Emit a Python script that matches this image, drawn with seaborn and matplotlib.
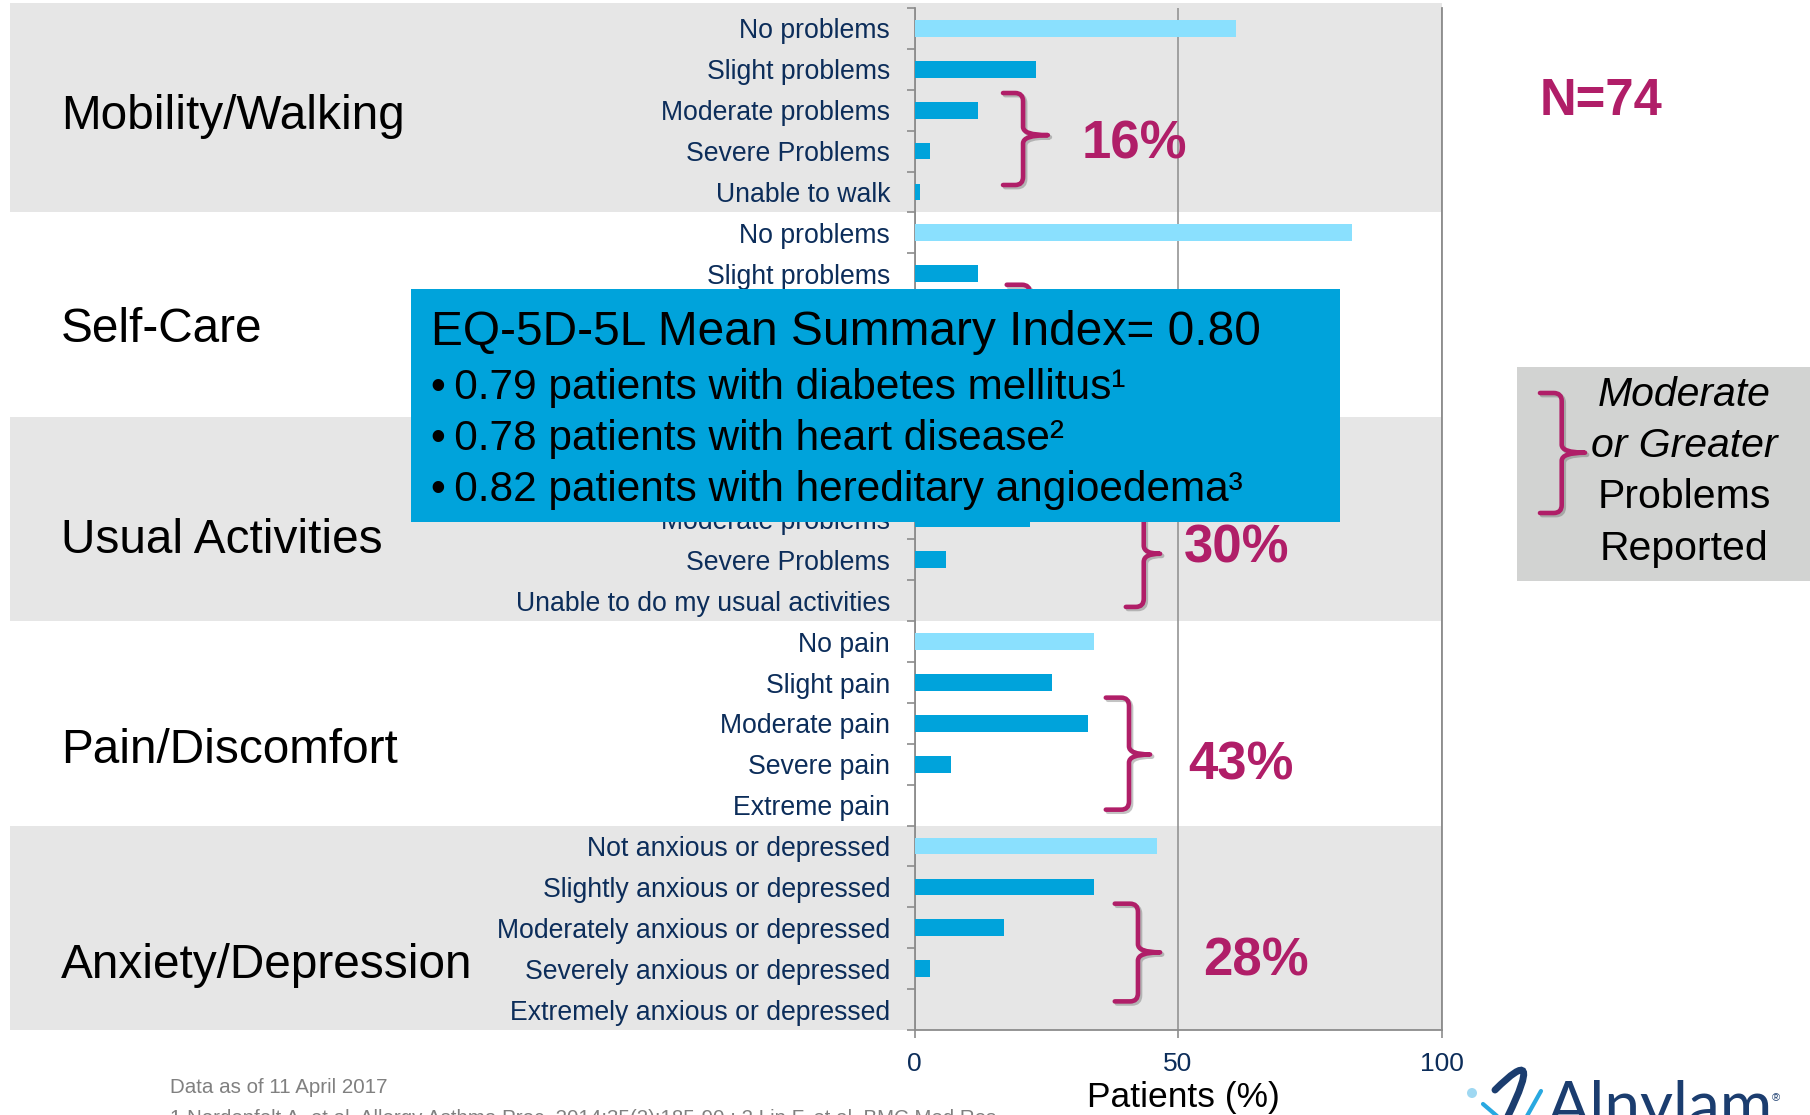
import numpy as np
import pandas as pd
import matplotlib
matplotlib.use("Agg")
import matplotlib.pyplot as plt
from matplotlib.patches import Rectangle, PathPatch, Circle
from matplotlib.path import Path
from matplotlib.ticker import FixedLocator
from matplotlib import transforms
import matplotlib.patheffects as pe
import seaborn as sns

# ---------------------------------------------------------------- data
dimensions = ["Mobility/Walking", "Self-Care", "Usual Activities",
              "Pain/Discomfort", "Anxiety/Depression"]

mobility_levels = ["No problems", "Slight problems", "Moderate problems",
                   "Severe Problems", "Unable to walk"]
selfcare_levels = ["No problems", "Slight problems", "Moderate problems",
                   "Severe Problems", "Unable to wash or dress"]
usual_levels = ["No problems", "Slight problems", "Moderate problems",
                "Severe Problems", "Unable to do my usual activities"]
pain_levels = ["No pain", "Slight pain", "Moderate pain", "Severe pain",
               "Extreme pain"]
anxiety_levels = ["Not anxious or depressed", "Slightly anxious or depressed",
                  "Moderately anxious or depressed",
                  "Severely anxious or depressed",
                  "Extremely anxious or depressed"]

mobility_pct = [61, 23, 12, 3, 1]
selfcare_pct = [83, 12, 4, 1, 0]
usual_pct = [47, 25, 22, 6, 0]
pain_pct = [34, 26, 33, 7, 0]
anxiety_pct = [46, 34, 17, 3, 0]

moderate_or_greater = ["16%", None, "30%", "43%", "28%"]

summary_title = "EQ-5D-5L Mean Summary Index= 0.80"
summary_bullets = ["0.79 patients with diabetes mellitus\u00b9",
                   "0.78 patients with heart disease\u00b2",
                   "0.82 patients with hereditary angioedema\u00b3"]

x_ticks = [0, 50, 100]

# ---------------------------------------------------------------- table
levels = [mobility_levels, selfcare_levels, usual_levels, pain_levels,
          anxiety_levels]
values = [mobility_pct, selfcare_pct, usual_pct, pain_pct, anxiety_pct]
records = []
for dim, lv, vals in zip(dimensions, levels, values):
    for i, (name, v) in enumerate(zip(lv, vals)):
        records.append({"row": f"{dim} | {name}", "level": name, "pct": v,
                        "tier": "none" if i == 0 else "some"})
df = pd.DataFrame(records)

# ---------------------------------------------------------------- style
W, H = 1810, 1115
LIGHT = "#8AE0FE"
DARK = "#00A3DB"
NAVY = "#0C2D5A"
MAGENTA = "#B01E68"
AXGRAY = "#8C8C8C"
BAND = "#E6E6E6"

sns.set_theme(style="white")
plt.rcParams["font.family"] = ["Liberation Sans", "DejaVu Sans"]

fig = plt.figure(figsize=(W / 100, H / 100), dpi=100, facecolor="white")
ax = fig.add_axes([914.5 / W, 1 - 1030 / H, 527 / W, 1022 / H])
ax.set_facecolor("none")

# pixel coordinates measured from the top-left corner of the canvas
T_px = transforms.Affine2D().scale(1 / W, -1 / H).translate(0, 1) + fig.transFigure
T_band = transforms.blended_transform_factory(fig.transFigure, ax.transData)

# ---------------------------------------------------------------- bars
sns.barplot(data=df, x="pct", y="row", hue="tier", order=df["row"],
            hue_order=["none", "some"], palette={"none": LIGHT, "some": DARK},
            dodge=False, width=0.41, saturation=1, legend=False,
            orient="h", ax=ax, zorder=3, linewidth=0, edgecolor="none")

n_rows = len(df)
ax.set_yticks(np.arange(n_rows))
ax.set_yticklabels(df["level"])
ax.yaxis.set_minor_locator(FixedLocator(np.arange(-0.5, n_rows, 1)))
ax.tick_params(axis="y", which="major", left=True, length=0, pad=17.5,
               labelsize=19.2, labelcolor=NAVY)
ax.tick_params(axis="y", which="minor", left=True, length=5.5, width=1.2,
               color=AXGRAY, direction="out")

ax.set_xticks(x_ticks)
ax.tick_params(axis="x", which="major", bottom=True, length=6, width=1.2,
               color=AXGRAY, direction="out", pad=10, labelsize=19,
               labelcolor=NAVY)
ax.grid(axis="x", color=AXGRAY, linewidth=1.1)
ax.grid(axis="y", visible=False)
ax.set_axisbelow(True)

for side in ["left", "right", "bottom"]:
    ax.spines[side].set_visible(True)
    ax.spines[side].set_color(AXGRAY)
    ax.spines[side].set_linewidth(1.3)
ax.spines["top"].set_visible(False)

ax.set_ylabel("")
ax.set_xlabel("Patients (%)", fontsize=25.5, color="black")
ax.xaxis.label.set_va("baseline")
ax.xaxis.set_label_coords(0.5095, -(1107 - 1030) / 1022)

# alternating grey bands behind each dimension
for k in range(0, len(dimensions), 2):
    top = k * 5 - 0.5 - (0.12 if k == 0 else 0)
    fig.add_artist(Rectangle((10 / W, top), (1441.5 - 10) / W,
                             k * 5 + 4.5 - top, transform=T_band,
                             facecolor=BAND, edgecolor="none", zorder=-5))

# dimension names on the left
name_baselines = [2.46, 7.67, 12.82, 17.96, 23.24]
for dim, yb in zip(dimensions, name_baselines):
    ax.text(61 / W, yb, dim, transform=T_band, fontsize=34.4, color="black",
            ha="left", va="baseline", clip_on=False)


# ---------------------------------------------------------------- braces
def brace(xl, xv, xt, yt, ym, yb, rx, ry, transform, lw=3.3, z=5):
    verts = [(xl, yt), (xv - rx, yt), (xv, yt), (xv, yt + ry),
             (xv, ym - ry), (xv, ym), (xt, ym),
             (xv, ym), (xv, ym + ry),
             (xv, yb - ry), (xv, yb), (xv - rx, yb), (xl, yb)]
    codes = [Path.MOVETO, Path.LINETO, Path.CURVE3, Path.CURVE3,
             Path.LINETO, Path.CURVE3, Path.CURVE3,
             Path.CURVE3, Path.CURVE3,
             Path.LINETO, Path.CURVE3, Path.CURVE3, Path.LINETO]
    return PathPatch(Path(verts, codes), facecolor="none", edgecolor=MAGENTA,
                     lw=lw, capstyle="round", joinstyle="round",
                     transform=transform, clip_on=False, zorder=z,
                     path_effects=[pe.SimpleLineShadow(offset=(1.5, -1.5),
                                                       shadow_color="#555555",
                                                       alpha=0.35),
                                   pe.Normal()])


# (left hook, vertical, tip) in % units ; (top, middle, bottom) in rows
brace_geom = [
    (16.8, 20.6, 25.3, 1.58, 2.61, 3.83),
    (17.5, 21.9, 26.6, 6.27, 7.40, 8.55),
    (40.1, 43.5, 46.6, 11.55, 12.85, 14.15),
    (36.3, 40.7, 44.7, 16.37, 17.76, 19.11),
    (38.0, 42.4, 46.6, 21.41, 22.60, 23.80),
]
label_pos = [(31.8, 3.17), None, (51.2, 13.07), (52.0, 18.38), (54.7, 23.17)]

for geom, lab, pos in zip(brace_geom, moderate_or_greater, label_pos):
    ax.add_patch(brace(*geom, rx=1.5, ry=0.2, transform=ax.transData))
    if lab is not None:
        ax.text(pos[0], pos[1], lab, fontsize=38, fontweight="bold",
                color=MAGENTA, ha="left", va="baseline", clip_on=False,
                zorder=6)

ax.set_xlim(0, 100)
ax.set_ylim(n_rows - 0.5, -0.5)

# ---------------------------------------------------------------- summary box
fig.add_artist(Rectangle((411, 289), 929, 233, transform=T_px,
                         facecolor="#00A3DB", edgecolor="none", zorder=20))
fig.text(431, 345, summary_title, transform=T_px, fontsize=34.5,
         color="black", ha="left", va="baseline", zorder=21)
for txt, yb in zip(summary_bullets, [399, 450, 501]):
    fig.text(431, yb, "\u2022\u2009" + txt, transform=T_px, fontsize=30.5,
             color="black", ha="left", va="baseline", zorder=21)

# ---------------------------------------------------------------- N and key
fig.text(1540, 115, "N=74", transform=T_px, fontsize=36.5,
         fontweight="bold", color=MAGENTA, ha="left", va="baseline")

fig.add_artist(Rectangle((1517, 366.7), 300, 214, transform=T_px,
                         facecolor="#D2D3D2", edgecolor="none", zorder=2))
fig.add_artist(brace(1540, 1561.7, 1585, 393, 452.7, 513, rx=8, ry=8,
                     transform=T_px, lw=3.3, z=3))
key_lines = [("Moderate", "italic", 405.5), ("or Greater", "italic", 457),
             ("Problems", "normal", 508), ("Reported", "normal", 559.5)]
for txt, style, yb in key_lines:
    fig.text(1684, yb, txt, transform=T_px, fontsize=29.5, fontstyle=style,
             color="black", ha="center", va="baseline", zorder=4)

# ---------------------------------------------------------------- footnotes
fig.text(170, 1093, "Data as of 11 April 2017", transform=T_px,
         fontsize=14.8, color="#808080", ha="left", va="baseline")
fig.text(170, 1124, "1 Nordenfelt A, et al. Allergy Asthma Proc. "
         "2014;35(2):185-90 ; 2 Lin F, et al. BMC Med Res",
         transform=T_px, fontsize=14.8, color="#808080", ha="left",
         va="baseline")

# ---------------------------------------------------------------- logo
fig.text(1547, 1127, "Alnylam", transform=T_px, fontsize=46,
         family=["Lato", "Liberation Sans"], fontweight="normal",
         color="#1B3D6F", ha="left", va="baseline")
fig.text(1772, 1101, "\u00ae", transform=T_px, fontsize=8, color="#1B3D6F",
         ha="left", va="baseline")
swoosh = Path([(1495, 1090), (1545, 1040), (1508, 1116)],
              [Path.MOVETO, Path.CURVE3, Path.CURVE3])
fig.add_artist(PathPatch(swoosh, facecolor="none", edgecolor="#1B3D6F",
                         lw=5, capstyle="round", transform=T_px))
fig.add_artist(Circle((1472, 1093), 5, transform=T_px, facecolor="#9FD8F2",
                      edgecolor="none"))
for (x0, y0), (x1, y1) in [((1483, 1104), (1497, 1116)),
                           ((1541, 1091), (1527, 1116))]:
    fig.add_artist(PathPatch(Path([(x0, y0), (x1, y1)]), facecolor="none",
                             edgecolor="#29A8E0", lw=3, capstyle="round",
                             transform=T_px))

fig.savefig("out.png", dpi=100, facecolor="white")
